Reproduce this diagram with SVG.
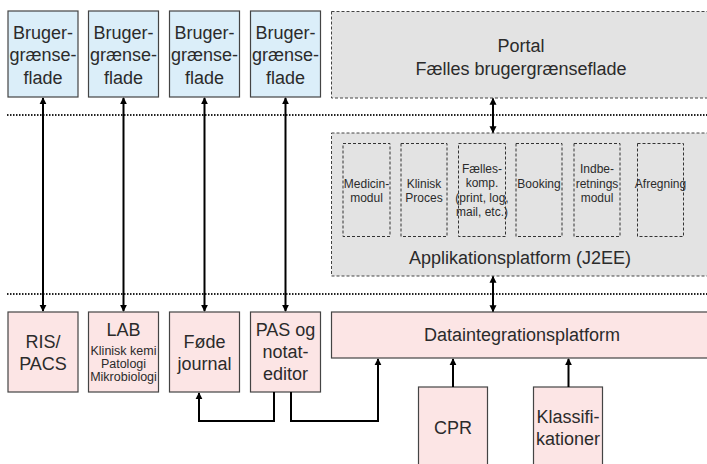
<svg xmlns="http://www.w3.org/2000/svg" width="707" height="464" viewBox="0 0 707 464">
<defs>
<marker id="ah" viewBox="0 0 10 10" refX="9" refY="5" markerWidth="3.5" markerHeight="4.5" orient="auto-start-reverse" markerUnits="strokeWidth"><path d="M0,0 L10,5 L0,10 z" fill="#000"/></marker>
</defs>
<style>
text{font-family:"Liberation Sans",Arial,sans-serif;fill:#2b2b2b;text-anchor:middle}
.t18{font-size:18px}
.t12{font-size:12px}
.t125{font-size:12.5px}
.blue{fill:#dbeef9;stroke:#444;stroke-width:1.2}
.pink{fill:#fce5e5;stroke:#444;stroke-width:1.2}
.gray{fill:#e3e3e3;stroke:#444;stroke-width:1;stroke-dasharray:3 2}
.mod{fill:none;stroke:#333;stroke-width:1;stroke-dasharray:3 2}
.dot{stroke:#222;stroke-width:2;stroke-dasharray:1.5 1.5;fill:none}
.con{stroke:#000;stroke-width:2;fill:none}
</style>
<rect width="707" height="464" fill="#fff"/>
<g id="separators">
<line class="dot" x1="7" y1="115" x2="707" y2="115"/>
<line class="dot" x1="7" y1="294" x2="707" y2="294"/>
</g>
<g id="ui1"><rect class="blue" x="8" y="11" width="70" height="86"/><text class="t18" x="43" y="39">Bruger-</text><text class="t18" x="43" y="61">grænse-</text><text class="t18" x="43" y="84">flade</text></g>
<g id="ui2"><rect class="blue" x="88.5" y="11" width="70" height="86"/><text class="t18" x="123.5" y="39">Bruger-</text><text class="t18" x="123.5" y="61">grænse-</text><text class="t18" x="123.5" y="84">flade</text></g>
<g id="ui3"><rect class="blue" x="169.5" y="11" width="70" height="86"/><text class="t18" x="204.5" y="39">Bruger-</text><text class="t18" x="204.5" y="61">grænse-</text><text class="t18" x="204.5" y="84">flade</text></g>
<g id="ui4"><rect class="blue" x="250.5" y="11" width="70" height="86"/><text class="t18" x="285.5" y="39">Bruger-</text><text class="t18" x="285.5" y="61">grænse-</text><text class="t18" x="285.5" y="84">flade</text></g>
<g id="portal"><rect class="gray" x="331.5" y="11.5" width="380" height="86.5"/><text class="t18" x="521" y="52">Portal</text><text class="t18" x="521" y="75">Fælles brugergrænseflade</text></g>
<g id="app"><rect class="gray" x="331.5" y="133" width="380" height="143"/><text class="t18" x="520" y="264">Applikationsplatform (J2EE)</text></g>
<g id="m1"><rect class="mod" x="343" y="143.5" width="47" height="93"/><text class="t12" x="366.5" y="188">Medicin-</text><text class="t12" x="366.5" y="202">modul</text></g>
<g id="m2"><rect class="mod" x="401" y="143.5" width="46" height="93"/><text class="t12" x="424" y="188">Klinisk</text><text class="t12" x="424" y="202">Proces</text></g>
<g id="m3"><rect class="mod" x="458.5" y="143.5" width="47" height="93"/><text class="t12" x="482" y="173">Fælles-</text><text class="t12" x="482" y="187">komp.</text><text class="t12" x="482" y="202">(print, log,</text><text class="t12" x="482" y="216">mail, etc.)</text></g>
<g id="m4"><rect class="mod" x="516" y="143.5" width="46" height="93"/><text class="t12" x="539" y="188">Booking</text></g>
<g id="m5"><rect class="mod" x="574" y="143.5" width="46" height="93"/><text class="t12" x="597" y="173">Indbe-</text><text class="t12" x="597" y="188">retnings</text><text class="t12" x="597" y="202">modul</text></g>
<g id="m6"><rect class="mod" x="637.5" y="143.5" width="46" height="93"/><text class="t12" x="660.5" y="188">Afregning</text></g>
<g id="ris"><rect class="pink" x="8" y="312" width="70" height="80"/><text class="t18" x="43" y="348">RIS/</text><text class="t18" x="43" y="370">PACS</text></g>
<g id="lab"><rect class="pink" x="88.5" y="312" width="70" height="80"/><text class="t18" x="123.5" y="336">LAB</text><text class="t125" x="123.5" y="355">Klinisk kemi</text><text class="t125" x="123.5" y="368">Patologi</text><text class="t125" x="123.5" y="381">Mikrobiologi</text></g>
<g id="fode"><rect class="pink" x="169.5" y="312" width="70" height="80"/><text class="t18" x="204.5" y="348">Føde</text><text class="t18" x="204.5" y="370">journal</text></g>
<g id="pas"><rect class="pink" x="250.5" y="312" width="70" height="80"/><text class="t18" x="285.5" y="336">PAS og</text><text class="t18" x="285.5" y="358">notat-</text><text class="t18" x="285.5" y="380">editor</text></g>
<g id="dip"><rect class="pink" x="331.5" y="312" width="380" height="46"/><text class="t18" x="522" y="341">Dataintegrationsplatform</text></g>
<g id="cpr"><rect class="pink" x="418.5" y="387" width="69" height="90"/><text class="t18" x="453" y="434">CPR</text></g>
<g id="klass"><rect class="pink" x="533.5" y="387" width="69" height="90"/><text class="t18" x="568" y="423">Klassifi-</text><text class="t18" x="568" y="445">kationer</text></g>
<g id="connectors">
<line class="con" x1="43" y1="98" x2="43" y2="311" marker-start="url(#ah)" marker-end="url(#ah)"/>
<line class="con" x1="123.5" y1="98" x2="123.5" y2="311" marker-start="url(#ah)" marker-end="url(#ah)"/>
<line class="con" x1="204.5" y1="98" x2="204.5" y2="311" marker-start="url(#ah)" marker-end="url(#ah)"/>
<line class="con" x1="285.5" y1="98" x2="285.5" y2="311" marker-start="url(#ah)" marker-end="url(#ah)"/>
<line class="con" x1="493" y1="98.5" x2="493" y2="132.5" marker-start="url(#ah)" marker-end="url(#ah)"/>
<line class="con" x1="493" y1="276.5" x2="493" y2="311.5" marker-start="url(#ah)" marker-end="url(#ah)"/>
<polyline class="con" points="274,392 274,421 199,421 199,393" marker-end="url(#ah)"/>
<polyline class="con" points="291,392 291,421 378,421 378,359" marker-end="url(#ah)"/>
<line class="con" x1="453" y1="387" x2="453" y2="359" marker-end="url(#ah)"/>
<line class="con" x1="568.5" y1="387" x2="568.5" y2="359" marker-end="url(#ah)"/>
</g>
</svg>
